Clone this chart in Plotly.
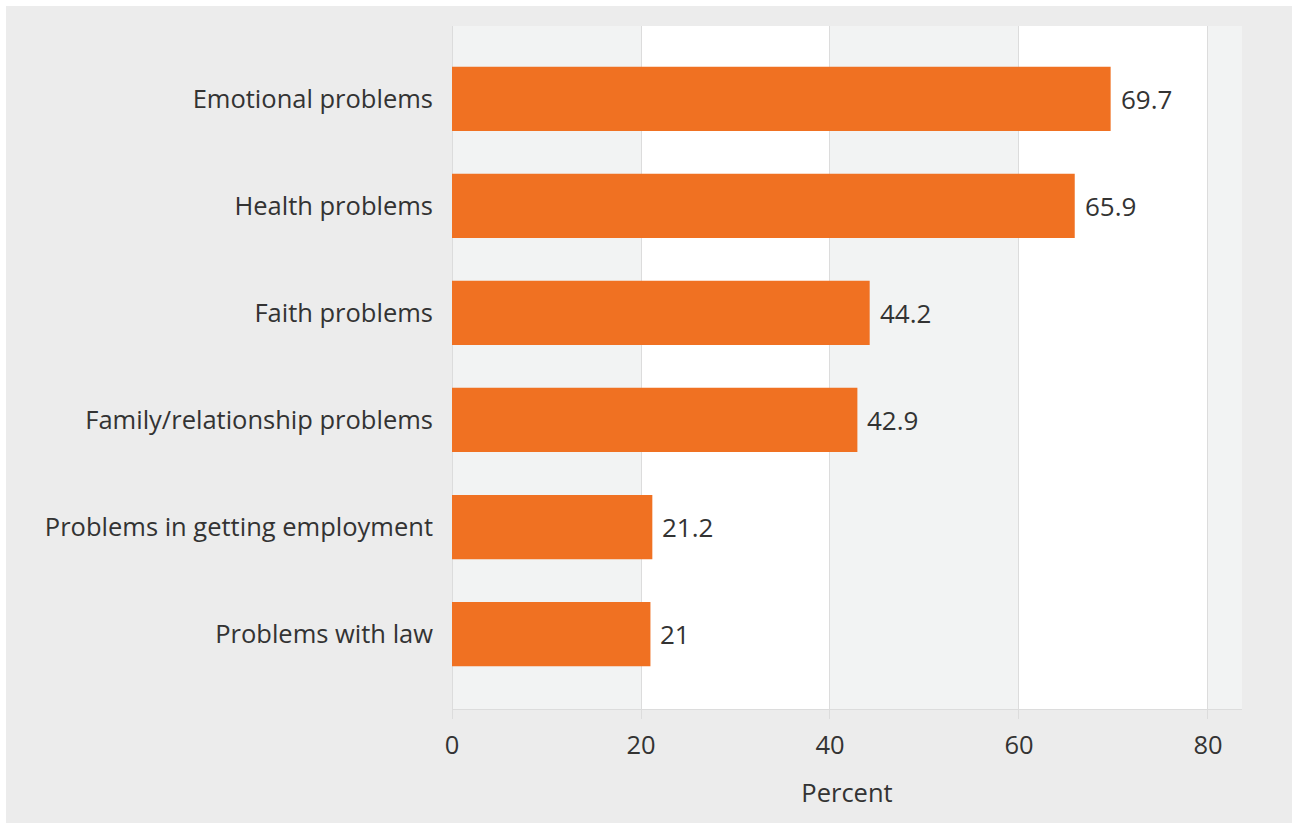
import plotly.graph_objects as go

categories = ["Emotional problems", "Health problems", "Faith problems",
              "Family/relationship problems", "Problems in getting employment",
              "Problems with law"]
values = [69.7, 65.9, 44.2, 42.9, 21.2, 21]
labels = ["69.7", "65.9", "44.2", "42.9", "21.2", "21"]
x_ticks = [0, 20, 40, 60, 80]

BAR = "#F07122"
BAND = "#F2F3F3"
OUTER = "#ECECEC"
TXT = "#333333"
GRID = "#DCDCDC"
FONT = "Open Sans"
FS = 25.5

W, H = 1292, 823
ML, MR, MT, MB = 452, 50, 26, 114
PW, PH = W - ML - MR, H - MT - MB
XMAX = 83.6
EDGE = 6

fig = go.Figure()
fig.add_trace(go.Bar(
    y=categories, x=values, orientation="h",
    marker=dict(color=BAR, line=dict(width=0)),
    width=0.6, hoverinfo="x+y",
))

for c, v, t in zip(categories, values, labels):
    fig.add_annotation(x=v, y=c, text=t, showarrow=False, xanchor="left",
                       xshift=8, font=dict(family=FONT, size=26, color=TXT))


def px_x(p):
    return (p - ML) / PW


def px_y(p):
    return (H - MB - p) / PH


shapes = [
    dict(type="rect", xref="paper", yref="paper",
         x0=px_x(0), x1=px_x(W), y0=px_y(EDGE), y1=px_y(0),
         fillcolor="white", line=dict(width=0), layer="below"),
    dict(type="rect", xref="paper", yref="paper",
         x0=px_x(0), x1=px_x(EDGE), y0=px_y(H), y1=px_y(0),
         fillcolor="white", line=dict(width=0), layer="below"),
]
for a, b in [(0, 20), (40, 60), (80, XMAX)]:
    shapes.append(dict(type="rect", xref="x", yref="paper", x0=a, x1=b,
                       y0=0, y1=1, fillcolor=BAND, line=dict(width=0),
                       layer="below"))

fig.update_layout(
    width=W, height=H,
    margin=dict(l=ML, r=MR, t=MT, b=MB, pad=0),
    paper_bgcolor=OUTER, plot_bgcolor="white",
    showlegend=False,
    font=dict(family=FONT, size=FS, color=TXT),
    shapes=shapes,
    xaxis=dict(range=[0, XMAX], tickvals=x_ticks, ticktext=[str(v) for v in x_ticks],
               showgrid=True, gridcolor=GRID, gridwidth=1,
               zeroline=True, zerolinecolor=GRID, zerolinewidth=1,
               showline=True, linecolor=GRID, linewidth=1,
               ticks="outside", ticklen=9, tickcolor=GRID,
               ticklabelstandoff=4,
               tickfont=dict(family=FONT, size=FS, color=TXT),
               title=dict(text="Percent", standoff=24,
                          font=dict(family=FONT, size=FS, color=TXT)),
               fixedrange=True),
    yaxis=dict(type="category", categoryorder="array", categoryarray=categories,
               range=[5.7, -0.68], showgrid=False, zeroline=False,
               showline=False, ticks="", ticklabelstandoff=18,
               tickfont=dict(family=FONT, size=FS, color=TXT),
               fixedrange=True),
)

fig.write_html(
    "out.html",
    config={"displayModeBar": False},
    post_script="document.body.style.margin='0';"
                "document.body.style.backgroundColor='#ECECEC';",
)
